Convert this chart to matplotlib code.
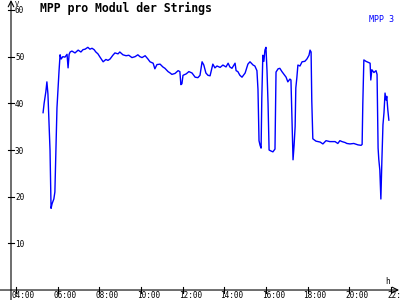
import matplotlib
matplotlib.use("Agg")
import matplotlib.pyplot as plt

# Messwerte MPP 3 (Uhrzeit, Spannung in V)
zeiten = [
    "05:18", "05:21", "05:26", "05:29", "05:32", "05:38", "05:41", "05:44", "05:49", "05:52",
    "05:55", "05:58", "06:04", "06:07", "06:10", "06:15", "06:21", "06:27", "06:30", "06:33",
    "06:36", "06:41", "06:50", "06:59", "07:07", "07:13", "07:19", "07:27", "07:33", "07:39",
    "07:45", "07:50", "07:56", "08:02", "08:11", "08:19", "08:25", "08:31", "08:39", "08:45",
    "08:54", "08:59", "09:08", "09:17", "09:25", "09:34", "09:43", "09:51", "09:57", "10:03",
    "10:12", "10:20", "10:26", "10:35", "10:40", "10:46", "10:55", "11:03", "11:09", "11:18",
    "11:24", "11:29", "11:38", "11:47", "11:52", "11:55", "11:58", "12:01", "12:10", "12:18",
    "12:27", "12:36", "12:44", "12:50", "12:56", "13:01", "13:07", "13:13", "13:19", "13:27",
    "13:33", "13:39", "13:48", "13:56", "14:05", "14:11", "14:16", "14:22", "14:31", "14:34",
    "14:39", "14:45", "14:51", "15:00", "15:08", "15:14", "15:23", "15:28", "15:34", "15:37",
    "15:40", "15:43", "15:46", "15:48", "15:51", "15:54", "15:57", "16:00", "16:03", "16:06",
    "16:09", "16:14", "16:20", "16:26", "16:29", "16:35", "16:40", "16:46", "16:52", "16:58",
    "17:03", "17:09", "17:12", "17:15", "17:18", "17:21", "17:24", "17:26", "17:29", "17:32",
    "17:38", "17:44", "17:52", "17:58", "18:04", "18:07", "18:10", "18:12", "18:15", "18:24",
    "18:36", "18:44", "18:53", "19:04", "19:19", "19:27", "19:33", "19:39", "19:48", "19:53",
    "20:02", "20:13", "20:25", "20:34", "20:37", "20:39", "20:42", "20:48", "20:54", "21:00",
    "21:02", "21:05", "21:11", "21:17", "21:20", "21:23", "21:25", "21:28", "21:31", "21:34",
    "21:37", "21:40", "21:43", "21:46", "21:48", "21:51", "21:54",
]
spannung = [
    38.0, 40.0, 42.5, 44.6, 42.0, 30.0, 17.5, 18.5, 19.5, 21.0,
    30.0, 39.0, 47.0, 50.4, 49.5, 50.0, 49.9, 50.5, 47.6, 50.5,
    51.0, 51.2, 50.8, 51.4, 51.0, 51.5, 51.6, 52.0, 51.6, 51.8,
    51.5, 51.0, 50.6, 49.9, 48.9, 49.4, 49.2, 49.5, 50.3, 50.8,
    50.6, 51.0, 50.4, 50.2, 50.3, 49.8, 50.0, 50.4, 50.0, 49.8,
    50.2, 49.5, 48.9, 48.6, 47.4, 48.3, 48.4, 47.8, 47.5, 46.8,
    46.5, 46.2, 46.4, 47.0, 46.8, 44.0, 44.2, 46.0, 46.3, 46.8,
    46.5, 45.6, 45.5, 46.0, 48.9, 48.2, 46.5, 46.0, 45.9, 48.4,
    47.6, 48.0, 47.7, 48.2, 47.8, 48.6, 47.8, 47.5, 48.6, 47.0,
    46.8, 46.0, 45.6, 46.5, 48.4, 48.9, 48.2, 48.0, 47.0, 43.0,
    32.0, 31.0, 30.4, 41.0, 50.3, 49.0, 51.4, 52.0, 47.0, 40.0,
    30.0, 29.8, 29.6, 30.2, 46.7, 47.4, 47.5, 46.8, 46.2, 45.6,
    44.6, 45.2, 45.0, 36.0, 27.9, 31.0, 35.0, 43.3, 45.5, 48.2,
    48.0, 48.9, 49.0, 49.5, 50.3, 51.4, 51.0, 40.5, 32.4, 31.9,
    31.7, 31.3, 32.0, 31.8, 31.8, 31.4, 32.0, 31.8, 31.6, 31.4,
    31.3, 31.4, 31.1, 31.0, 31.2, 40.0, 49.3, 49.0, 48.8, 48.6,
    45.0, 47.2, 46.6, 47.0, 46.2, 30.4, 28.0, 25.7, 19.5, 28.0,
    35.4, 38.0, 42.2, 40.7, 41.5, 38.6, 36.4,
]

y_ticks = [10, 20, 30, 40, 50, 60]
x_ticks = [4, 6, 8, 10, 12, 14, 16, 18, 20, 22]
x_labels = ["04:00", "06:00", "08:00", "10:00", "12:00", "14:00",
            "16:00", "18:00", "20:00", "22:"]


def in_stunden(t):
    hh, mm = t.split(":")
    return int(hh) + int(mm) / 60


stunden = [in_stunden(t) for t in zeiten]

fig = plt.figure(figsize=(4, 3), dpi=100)
ax = fig.add_axes([0, 0, 1, 1])
ax.set_xlim(3.232, 22.435)
ax.set_ylim(-2.14, 62.14)
ax.axis("off")

y_achse = 3.76
mono = "DejaVu Sans Mono"

# Achsen mit Pfeilen
ax.annotate("", xy=(22.39, 0), xytext=(3.232, 0),
            arrowprops=dict(arrowstyle="->", lw=0.8, color="black",
                            shrinkA=0, shrinkB=0), annotation_clip=False)
ax.annotate("", xy=(y_achse, 62.14), xytext=(y_achse, -2.14),
            arrowprops=dict(arrowstyle="->", lw=0.8, color="black",
                            shrinkA=0, shrinkB=0), annotation_clip=False)

# Ticks und Beschriftung
for v in y_ticks:
    ax.plot([y_achse - 0.14, y_achse + 0.14], [v, v], color="black", lw=0.8)
    ax.annotate(str(v), xy=(y_achse, v), xytext=(4, -1), textcoords="offset pixels",
                ha="left", va="center", fontsize=5.5, family=mono)
for h, lab in zip(x_ticks, x_labels):
    ax.plot([h, h], [-0.7, 0.7], color="black", lw=0.8)
    ax.annotate(lab, xy=(h, 0), xytext=(-4, -7.5), textcoords="offset pixels",
                ha="left", va="baseline", fontsize=5.5, family=mono)

ax.plot(stunden, spannung, color="#0000ff", lw=1.0)

fig.text(15 / 400, 1 - 0.5 / 300, "V", fontsize=5, family=mono, ha="left", va="top")
fig.text(385 / 400, 1 - 282 / 300, "h", fontsize=5.5, family=mono, ha="left", va="center")
fig.text(40 / 400, 1 - 8 / 300, "MPP pro Modul der Strings", fontsize=8.3,
         family=mono, fontweight="bold", ha="left", va="center")
fig.text(394 / 400, 1 - 19.5 / 300, "MPP 3", fontsize=6, family=mono,
         color="#0000ff", ha="right", va="center")

fig.savefig("out.png", dpi=100)
